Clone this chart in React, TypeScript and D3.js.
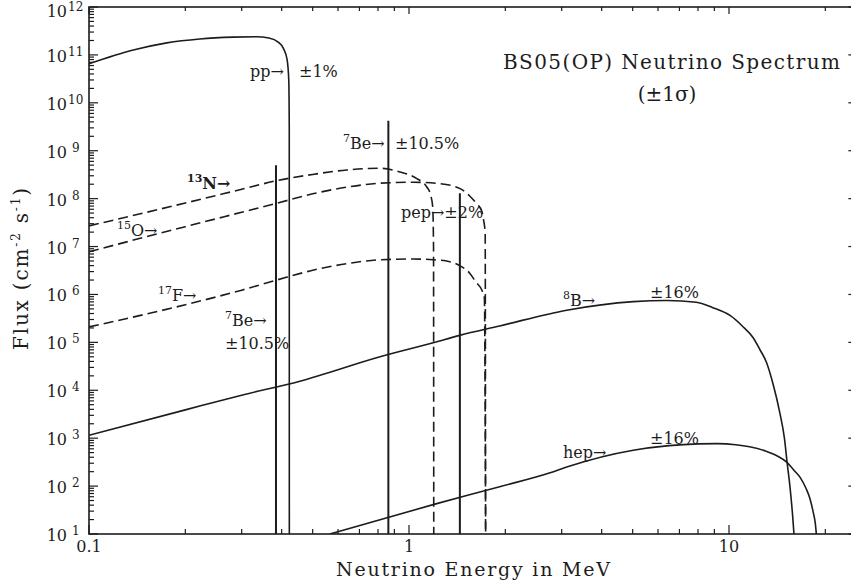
import React from "react";
import * as d3 from "d3";

type Pt = [number, number];

// ---- data (energy in MeV, flux in cm^-2 s^-1) ----
const ppSpectrum: Pt[] = [
  [0.1, 6.5e10], [0.1375, 1.26e11], [0.175, 1.78e11], [0.222, 2.15e11], [0.2825, 2.35e11],
  [0.333, 2.4e11], [0.365, 2.25e11], [0.39, 1.85e11], [0.405, 1.37e11], [0.416, 8e10],
  [0.421, 3e10], [0.4225, 3e9], [0.4227, 10],
];

const n13Spectrum: Pt[] = [
  [0.1, 2.7e7], [0.2, 8.1e7], [0.3, 1.57e8], [0.386, 2.37e8], [0.5, 3.2e8], [0.64, 3.97e8],
  [0.812, 4.3e8], [0.937, 3.6e8], [1.055, 2.65e8], [1.135, 1.77e8], [1.164, 1.29e8],
  [1.186, 6.8e7], [1.193, 1e7], [1.195, 10],
];

const o15Spectrum: Pt[] = [
  [0.1, 7.8e6], [0.2, 2.6e7], [0.3, 5.2e7], [0.386, 8e7], [0.5, 1.26e8], [0.64, 1.74e8],
  [0.812, 2.1e8], [1.03, 2.2e8], [1.25, 2.05e8], [1.45, 1.6e8], [1.55, 1.12e8],
  [1.62, 8.1e7], [1.69, 5.4e7], [1.71, 3.6e7], [1.73, 1.9e7], [1.735, 10],
];

const f17Spectrum: Pt[] = [
  [0.1, 2.1e5], [0.2, 6.1e5], [0.3, 1.23e6], [0.386, 2e6], [0.5, 3.2e6], [0.64, 4.4e6],
  [0.812, 5.3e6], [1.03, 5.5e6], [1.19, 5.3e6], [1.31, 5.0e6], [1.45, 3.9e6],
  [1.55, 2.75e6], [1.62, 1.8e6], [1.69, 1.22e6], [1.72, 8.5e5], [1.736, 10],
];

const b8Spectrum: Pt[] = [
  [0.1, 1.15e3], [0.2, 3.9e3], [0.3, 7.9e3], [0.456, 1.55e4], [0.812, 5e4], [1.19, 9.8e4],
  [1.44, 1.4e5], [1.92, 2.2e5], [3.11, 4.7e5], [5.02, 7.1e5], [6.4, 7.5e5], [7.9, 6.9e5],
  [8.9, 5.3e5], [10.1, 3.6e5], [11.0, 2.2e5], [11.9, 1.25e5], [12.5, 7e4], [13.1, 3.8e4],
  [13.75, 1.3e4], [14.4, 3.5e3], [14.9, 1e3], [15.2, 300], [15.5, 100], [15.8, 25], [15.96, 10],
];

const hepSpectrum: Pt[] = [
  [0.566, 10], [1.205, 42], [1.92, 97], [2.76, 190], [3.11, 250], [5.02, 560], [6.5, 700],
  [8.0, 760], [9.2, 770], [10.5, 730], [11.6, 660], [13.0, 540], [14.2, 420], [15.1, 320],
  [16.0, 210], [16.7, 150], [17.4, 90], [17.9, 55], [18.3, 30], [18.6, 17], [18.75, 10],
];

const lineEnergies = [0.384, 0.862, 1.442];
const lineFluxes = [5.0e8, 4.2e9, 1.3e8];

const xMajorTicks = [0.1, 1, 10];
const xMajorLabels = ["0.1", "1", "10"];
const yExponents = [1, 2, 3, 4, 5, 6, 7, 8, 9, 10, 11, 12];

// ---- layout ----
const W = 851;
const H = 581;
const left = 89;
const top = 7;
const bottom = 534;
const right = left + 320 * Math.log10(250);

const x = d3.scaleLog().domain([0.1, 25]).range([left, right]);
const y = d3.scaleLog().domain([10, 1e12]).range([bottom, top]);

const lineGen = d3
  .line<Pt>()
  .x((d) => x(d[0]))
  .y((d) => y(d[1]))
  .curve(d3.curveMonotoneX);

const FONT = "'DejaVu Serif', serif";
const INK = "#1c1c1c";

const isMajor = (v: number) => Math.abs(Math.log10(v) - Math.round(Math.log10(v))) < 1e-9;

function Sup({ pre, main, x0, yb, bold }: { pre: string; main: string; x0: number; yb: number; bold?: boolean }) {
  return (
    <text x={x0} y={yb} fontSize={16} fontWeight={bold ? "bold" : "normal"}>
      <tspan fontSize={11} dy={-7}>{pre}</tspan>
      <tspan dy={7}>{main}</tspan>
    </text>
  );
}

export default function App() {
  const xTicks = x.ticks(20);
  const yTicks = y.ticks(30);
  const dashed = "10,5";

  return (
    <svg
      width={W}
      height={H}
      style={{ position: "absolute", left: 0, top: 0, background: "#fff" }}
      fontFamily={FONT}
      fill={INK}
    >
      <defs>
        <clipPath id="plot">
          <rect x={left} y={top} width={right - left} height={bottom - top} />
        </clipPath>
      </defs>

      {/* frame */}
      <rect x={left} y={top} width={right - left} height={bottom - top} fill="none" stroke={INK} strokeWidth={1.6} />

      {/* x ticks bottom and top */}
      {xTicks.map((v, i) => {
        const major = isMajor(v);
        const px = x(v);
        return (
          <g key={"xt" + i} stroke={INK} strokeWidth={1.2}>
            <line x1={px} x2={px} y1={bottom} y2={bottom - (major ? 9 : 5)} />
            <line x1={px} x2={px} y1={top} y2={top + (major ? 7 : 4)} />
          </g>
        );
      })}
      {xMajorTicks.map((v, i) => (
        <text key={"xl" + i} x={x(v)} y={552} fontSize={16} textAnchor="middle">
          {xMajorLabels[i]}
        </text>
      ))}

      {/* y ticks left (major+minor), right (major) */}
      {yTicks.map((v, i) => {
        const major = isMajor(v);
        const py = y(v);
        return (
          <g key={"yt" + i} stroke={INK} strokeWidth={1.2}>
            <line x1={left} x2={left + (major ? 9 : 5)} y1={py} y2={py} />
            {major && <line x1={right} x2={right - 8} y1={py} y2={py} />}
          </g>
        );
      })}
      {yExponents.map((e) => {
        const py = Math.max(y(Math.pow(10, e)), 10);
        return (
          <g key={"yl" + e}>
            <text x={67} y={py + 7} fontSize={16} textAnchor="end">10</text>
            <text x={e >= 10 ? 68 : 72} y={py + 1} fontSize={12}>{String(e)}</text>
          </g>
        );
      })}

      {/* axis titles */}
      <text x={336} y={576} fontSize={19} textLength={274} lengthAdjust="spacing">
        Neutrino Energy in MeV
      </text>
      <text transform="translate(28,350) rotate(-90)" fontSize={20} textLength={162} lengthAdjust="spacing">
        Flux (cm<tspan fontSize={12} dy={-8}>-2</tspan>
        <tspan dy={8}> s</tspan>
        <tspan fontSize={12} dy={-8}>-1</tspan>
        <tspan dy={8}>)</tspan>
      </text>

      {/* curves */}
      <g clipPath="url(#plot)" fill="none" stroke={INK} strokeWidth={1.6}>
        <path d={lineGen(ppSpectrum) || ""} />
        <path d={lineGen(b8Spectrum) || ""} />
        <path d={lineGen(hepSpectrum) || ""} />
        <path d={lineGen(n13Spectrum) || ""} strokeDasharray={dashed} />
        <path d={lineGen(o15Spectrum) || ""} strokeDasharray={dashed} />
        <path d={lineGen(f17Spectrum) || ""} strokeDasharray={dashed} />
        {lineEnergies.map((e, i) => (
          <line key={"ln" + i} x1={x(e)} x2={x(e)} y1={y(lineFluxes[i])} y2={bottom} strokeWidth={2} />
        ))}
      </g>

      {/* annotations */}
      <text x={503} y={69} fontSize={20} textLength={337} lengthAdjust="spacing">
        BS05(OP) Neutrino Spectrum
      </text>
      <text x={667} y={101} fontSize={20} textAnchor="middle">(±1σ)</text>

      <text x={250} y={77} fontSize={16}>pp→</text>
      <text x={299} y={77} fontSize={16}>±1%</text>

      <Sup pre="7" main="Be→" x0={343} yb={149} />
      <text x={395} y={149} fontSize={16}>±10.5%</text>

      <text x={401} y={218} fontSize={16}>pep→±2%</text>

      <Sup pre="13" main="N→" x0={187} yb={189} bold />
      <Sup pre="15" main="O→" x0={117} yb={236} />
      <Sup pre="17" main="F→" x0={158} yb={301} />
      <Sup pre="7" main="Be→" x0={225} yb={326} />
      <text x={225} y={349} fontSize={16}>±10.5%</text>

      <Sup pre="8" main="B→" x0={563} yb={306} />
      <text x={650} y={298} fontSize={16}>±16%</text>
      <text x={563} y={458} fontSize={16}>hep→</text>
      <text x={650} y={444} fontSize={16}>±16%</text>
    </svg>
  );
}
